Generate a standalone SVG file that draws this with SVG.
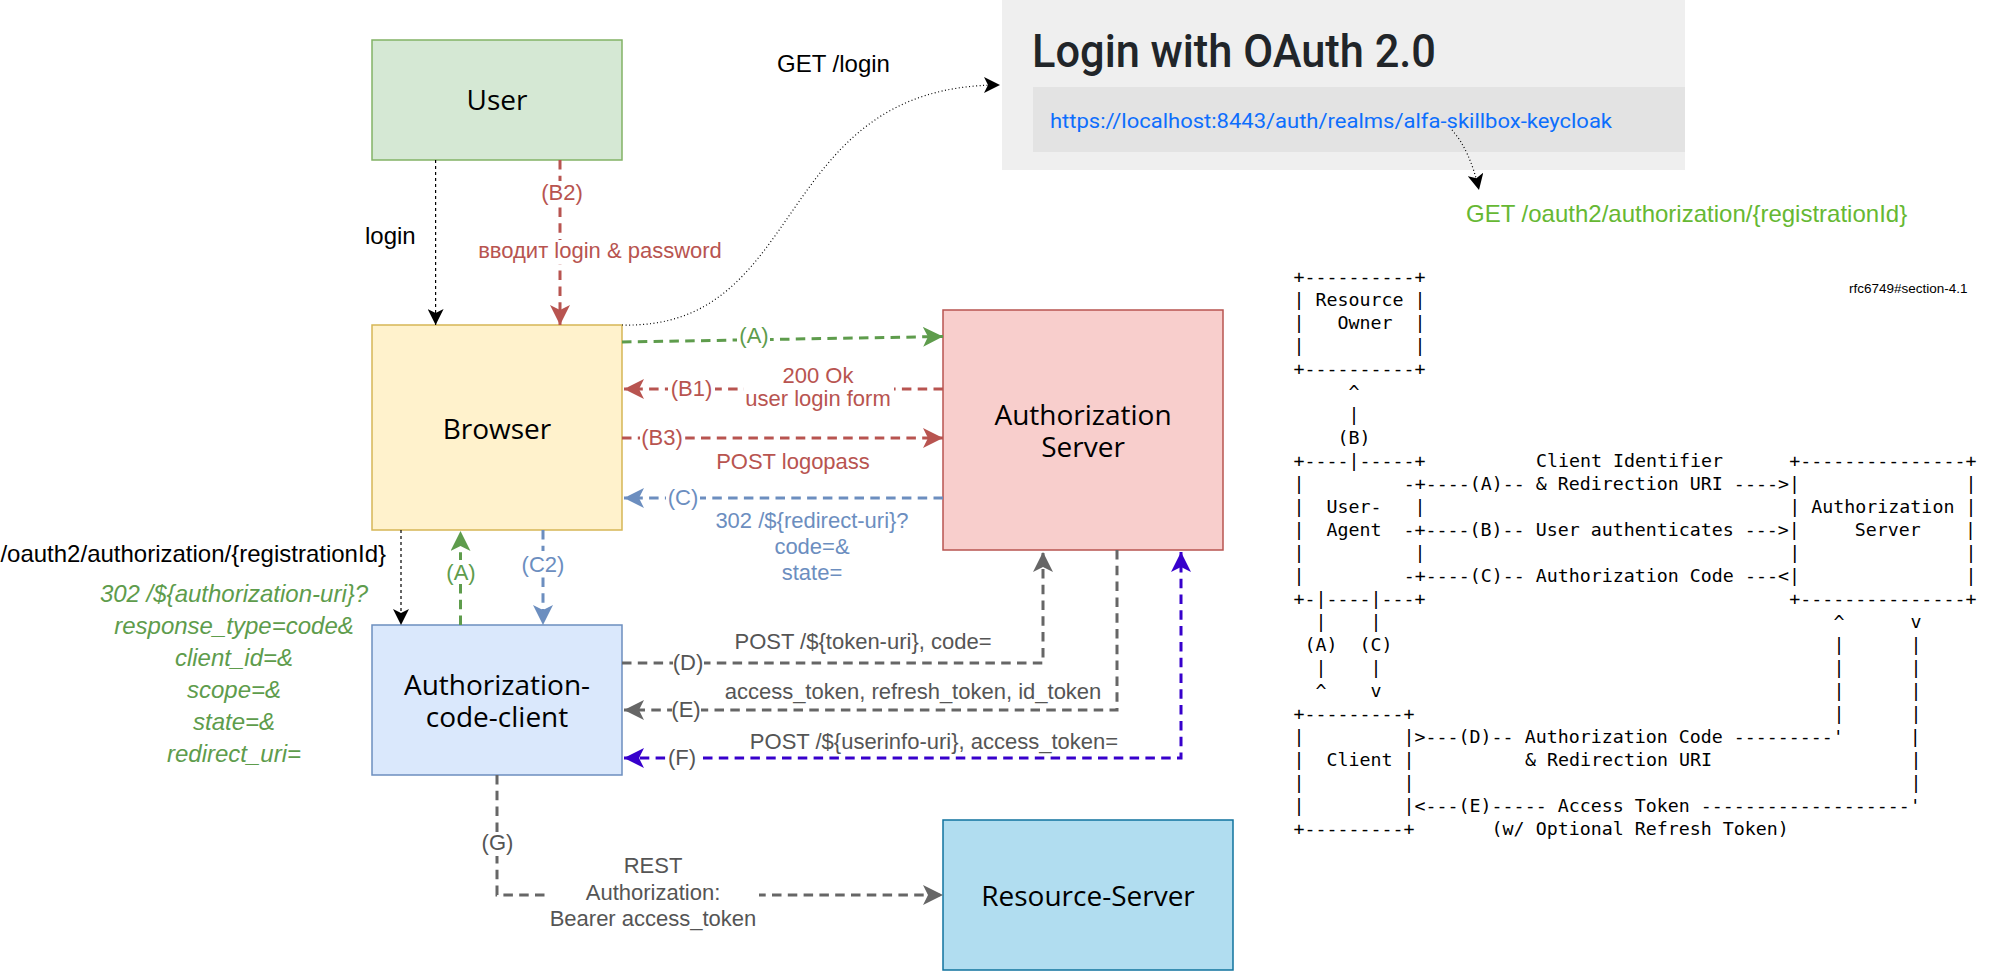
<svg xmlns="http://www.w3.org/2000/svg" width="2007" height="971" viewBox="0 0 2007 971">
<defs>
<style>
.nl{font-family:"Open Sans","Noto Sans",sans-serif;font-size:28px;fill:#000;text-anchor:middle}
.el{font-family:"Liberation Sans",Arial,sans-serif;font-size:22px;text-anchor:middle}
.big{font-family:"Liberation Sans",Arial,sans-serif;font-size:24px}
.bg{fill:#fff}
.thick{fill:none;stroke-width:3;stroke-dasharray:9.5 6.3}
.thin{fill:none;stroke:#000;stroke-width:1.2;stroke-dasharray:3 3}
.dot{fill:none;stroke:#000;stroke-width:1.2;stroke-dasharray:1 2.5}
.ascii{font-family:"DejaVu Sans Mono","Liberation Mono",monospace;font-size:18.3px;fill:#000;white-space:pre}
.red{fill:#b85450}.grn{fill:#5e9c4c}.blu{fill:#6c8ebf}.gry{fill:#555555}
</style>
<marker id="aK" viewBox="0 0 16 16" markerWidth="16" markerHeight="16" refX="16" refY="8" orient="auto" markerUnits="userSpaceOnUse"><path d="M0,0 L16,8 L0,16 L4,8 Z" fill="#000"/></marker>
<marker id="aR" viewBox="0 0 20 20" markerWidth="20" markerHeight="20" refX="20" refY="10" orient="auto" markerUnits="userSpaceOnUse"><path d="M0,0 L20,10 L0,20 L5,10 Z" fill="#b85450"/></marker>
<marker id="aG" viewBox="0 0 20 20" markerWidth="20" markerHeight="20" refX="20" refY="10" orient="auto" markerUnits="userSpaceOnUse"><path d="M0,0 L20,10 L0,20 L5,10 Z" fill="#5e9c4c"/></marker>
<marker id="aB" viewBox="0 0 20 20" markerWidth="20" markerHeight="20" refX="20" refY="10" orient="auto" markerUnits="userSpaceOnUse"><path d="M0,0 L20,10 L0,20 L5,10 Z" fill="#6c8ebf"/></marker>
<marker id="aD" viewBox="0 0 20 20" markerWidth="20" markerHeight="20" refX="20" refY="10" orient="auto" markerUnits="userSpaceOnUse"><path d="M0,0 L20,10 L0,20 L5,10 Z" fill="#666666"/></marker>
<marker id="aP" viewBox="0 0 20 20" markerWidth="20" markerHeight="20" refX="20" refY="10" orient="auto-start-reverse" markerUnits="userSpaceOnUse"><path d="M0,0 L20,10 L0,20 L5,10 Z" fill="#3700cc"/></marker>
</defs>
<rect x="0" y="0" width="2007" height="971" fill="#ffffff"/>

<g id="login-panel">
<rect x="1002" y="0" width="683" height="170" fill="#efefef"/>
<rect x="1033" y="87" width="652" height="65" fill="#e3e3e3"/>
<text x="1032" y="67" font-family="Roboto,'Liberation Sans',sans-serif" font-weight="500" font-size="46" fill="#212529" textLength="404" lengthAdjust="spacingAndGlyphs">Login with OAuth 2.0</text>
<text x="1050" y="128" font-family="Roboto,'Liberation Sans',sans-serif" font-size="21" fill="#0d6efd" textLength="562" lengthAdjust="spacingAndGlyphs">https://localhost:8443/auth/realms/alfa-skillbox-keycloak</text>
</g>

<g id="user"><rect x="372" y="40" width="250" height="120" fill="#d5e8d4" stroke="#82b366" stroke-width="1.5"/><text class="nl" x="497" y="110">User</text></g>
<g id="browser"><rect x="372" y="325" width="250" height="205" fill="#fff2cc" stroke="#d6b656" stroke-width="1.5"/><text class="nl" x="497" y="439">Browser</text></g>
<g id="auth-server"><rect x="943" y="310" width="280" height="240" fill="#f8cecc" stroke="#b85450" stroke-width="1.5"/><text class="nl" x="1083" y="425">Authorization<tspan x="1083" dy="32">Server</tspan></text></g>
<g id="client"><rect x="372" y="625" width="250" height="150" fill="#dae8fc" stroke="#6c8ebf" stroke-width="1.5"/><text class="nl" x="497" y="695">Authorization-<tspan x="497" dy="32">code-client</tspan></text></g>
<g id="resource-server"><rect x="943" y="820" width="290" height="150" fill="#b1ddf0" stroke="#10739e" stroke-width="1.5"/><text class="nl" x="1088" y="906">Resource-Server</text></g>

<g id="connectors">
<path class="dot" d="M622,325 C810,330 770,85 1000,85" marker-end="url(#aK)"/>
<path class="dot" d="M1452,130 Q1470,150 1479,190" marker-end="url(#aK)"/>
<path class="thin" d="M435.6,160 V325" marker-end="url(#aK)"/>
<path class="thick" stroke="#b85450" d="M560,160 V325" marker-end="url(#aR)"/>
<path class="thick" stroke="#5e9c4c" d="M622,342 L943,336.5" marker-end="url(#aG)"/>
<path class="thick" stroke="#b85450" d="M943,389 H624" marker-end="url(#aR)"/>
<path class="thick" stroke="#b85450" d="M622,438 H943" marker-end="url(#aR)"/>
<path class="thick" stroke="#6c8ebf" d="M943,498 H624" marker-end="url(#aB)"/>
<path class="thin" d="M401,530 V625" marker-end="url(#aK)"/>
<path class="thick" stroke="#5e9c4c" d="M460.5,625 V531" marker-end="url(#aG)"/>
<path class="thick" stroke="#6c8ebf" d="M543,530 V625" marker-end="url(#aB)"/>
<path class="thick" stroke="#666666" d="M622,663 H1043 V552" marker-end="url(#aD)"/>
<path class="thick" stroke="#666666" d="M1117,550 V710 H624" marker-end="url(#aD)"/>
<path class="thick" stroke="#3700cc" d="M624,758 H1181 V552" marker-start="url(#aP)" marker-end="url(#aP)"/>
<path class="thick" stroke="#666666" d="M497,775 V895 H943" marker-end="url(#aD)"/>

<rect class="bg" x="541" y="181" width="44" height="24"/><text class="el red" x="562" y="200">(B2)</text>
<rect class="bg" x="476" y="240" width="250" height="24"/><text class="el red" x="600" y="258">вводит login &amp; password</text>
<rect class="bg" x="737" y="326" width="33" height="23"/><text class="el grn" x="754" y="343">(A)</text>
<rect class="bg" x="668" y="378" width="47" height="24"/><text class="el red" x="691.5" y="395.5">(B1)</text>
<rect class="bg" x="744" y="364" width="150" height="48"/><text class="el red" x="818" y="383">200 Ok<tspan x="818" dy="23">user login form</tspan></text>
<rect class="bg" x="640" y="428" width="45" height="23"/><text class="el red" x="662" y="445">(B3)</text>
<text class="el red" x="793" y="469">POST logopass</text>
<rect class="bg" x="666" y="487" width="34" height="23"/><text class="el blu" x="683" y="505">(C)</text>
<text class="el blu" x="812" y="528">302 /${redirect-uri}?<tspan x="812" dy="26">code=&amp;</tspan><tspan x="812" dy="26">state=</tspan></text>
<rect class="bg" x="446" y="560" width="31" height="24"/><text class="el grn" x="461" y="580">(A)</text>
<rect class="bg" x="521" y="551" width="44" height="24"/><text class="el blu" x="543" y="572">(C2)</text>
<rect class="bg" x="673" y="652" width="31" height="23"/><text class="el gry" x="688" y="670">(D)</text>
<text class="el gry" x="863" y="649">POST /${token-uri}, code=</text>
<rect class="bg" x="672" y="700" width="29" height="22"/><text class="el gry" x="686" y="717">(E)</text>
<text class="el gry" x="913" y="699">access_token, refresh_token, id_token</text>
<rect class="bg" x="668" y="747" width="29" height="22"/><text class="el gry" x="682" y="765">(F)</text>
<text class="el gry" x="934" y="749">POST /${userinfo-uri}, access_token=</text>
<rect class="bg" x="481" y="832" width="33" height="24"/><text class="el gry" x="497.5" y="850">(G)</text>
<rect class="bg" x="548" y="855" width="211" height="78"/>
<text class="el gry" x="653" y="873">REST<tspan x="653" dy="27">Authorization:</tspan><tspan x="653" dy="26">Bearer access_token</tspan></text>
</g>

<g id="free-labels">
<text class="big" x="777" y="72" fill="#000">GET /login</text>
<text class="big" x="365" y="244" fill="#000">login</text>
<text class="big" x="386" y="562" fill="#000" text-anchor="end">/oauth2/authorization/{registrationId}</text>
<text class="big" x="1466" y="222" fill="#66b833">GET /oauth2/authorization/{registrationId}</text>
<text class="big grn" font-style="italic" text-anchor="middle" x="234" y="602">302 /${authorization-uri}?<tspan x="234" dy="32">response_type=code&amp;</tspan><tspan x="234" dy="32">client_id=&amp;</tspan><tspan x="234" dy="32">scope=&amp;</tspan><tspan x="234" dy="32">state=&amp;</tspan><tspan x="234" dy="32">redirect_uri=</tspan></text>
<text x="1849" y="292.5" font-family="'Liberation Sans',Arial,sans-serif" font-size="13.5" fill="#000">rfc6749#section-4.1</text>
</g>

<g id="rfc-ascii" class="ascii">
<text xml:space="preserve" x="1293.5" y="282.7">+----------+</text>
<text xml:space="preserve" x="1293.5" y="305.7">| Resource |</text>
<text xml:space="preserve" x="1293.5" y="328.8">|   Owner  |</text>
<text xml:space="preserve" x="1293.5" y="351.8">|          |</text>
<text xml:space="preserve" x="1293.5" y="374.8">+----------+</text>
<text xml:space="preserve" x="1348.6" y="397.9">^</text>
<text xml:space="preserve" x="1348.6" y="420.9">|</text>
<text xml:space="preserve" x="1337.6" y="443.9">(B)</text>
<text xml:space="preserve" x="1293.5" y="466.9">+----|-----+</text>
<text xml:space="preserve" x="1535.9" y="466.9">Client Identifier</text>
<text xml:space="preserve" x="1789.3" y="466.9">+---------------+</text>
<text xml:space="preserve" x="1293.5" y="490.0">|</text>
<text xml:space="preserve" x="1403.7" y="490.0">-+----(A)-- &amp; Redirection URI ----&gt;|</text>
<text xml:space="preserve" x="1965.6" y="490.0">|</text>
<text xml:space="preserve" x="1293.5" y="513.0">|  User-   |</text>
<text xml:space="preserve" x="1789.3" y="513.0">| Authorization |</text>
<text xml:space="preserve" x="1293.5" y="536.0">|  Agent  -+----(B)-- User authenticates ---&gt;|     Server    |</text>
<text xml:space="preserve" x="1293.5" y="559.1">|          |</text>
<text xml:space="preserve" x="1789.3" y="559.1">|               |</text>
<text xml:space="preserve" x="1293.5" y="582.1">|</text>
<text xml:space="preserve" x="1403.7" y="582.1">-+----(C)-- Authorization Code ---&lt;|</text>
<text xml:space="preserve" x="1965.6" y="582.1">|</text>
<text xml:space="preserve" x="1293.5" y="605.1">+-|----|---+</text>
<text xml:space="preserve" x="1789.3" y="605.1">+---------------+</text>
<text xml:space="preserve" x="1293.5" y="628.2">  |    |</text>
<text xml:space="preserve" x="1833.4" y="628.2">^      v</text>
<text xml:space="preserve" x="1293.5" y="651.2"> (A)  (C)</text>
<text xml:space="preserve" x="1833.4" y="651.2">|      |</text>
<text xml:space="preserve" x="1293.5" y="674.2">  |    |</text>
<text xml:space="preserve" x="1833.4" y="674.2">|      |</text>
<text xml:space="preserve" x="1293.5" y="697.2">  ^    v</text>
<text xml:space="preserve" x="1833.4" y="697.2">|      |</text>
<text xml:space="preserve" x="1293.5" y="720.3">+---------+</text>
<text xml:space="preserve" x="1833.4" y="720.3">|      |</text>
<text xml:space="preserve" x="1293.5" y="743.3">|         |&gt;---(D)-- Authorization Code ---------'      |</text>
<text xml:space="preserve" x="1293.5" y="766.3">|  Client |</text>
<text xml:space="preserve" x="1524.9" y="766.3">&amp; Redirection URI</text>
<text xml:space="preserve" x="1910.5" y="766.3">|</text>
<text xml:space="preserve" x="1293.5" y="789.4">|         |</text>
<text xml:space="preserve" x="1910.5" y="789.4">|</text>
<text xml:space="preserve" x="1293.5" y="812.4">|         |&lt;---(E)----- Access Token -------------------'</text>
<text xml:space="preserve" x="1293.5" y="835.4">+---------+       (w/ Optional Refresh Token)</text>
</g>
</svg>
